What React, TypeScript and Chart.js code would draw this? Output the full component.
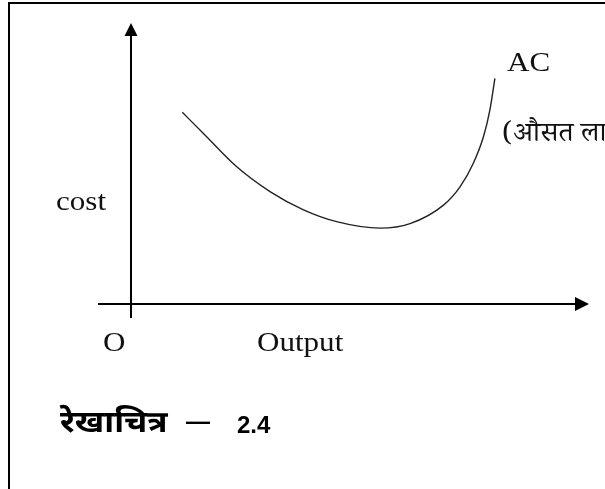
import React, { useEffect, useRef } from "react";
import { Chart, registerables } from "chart.js";

Chart.register(...registerables);

// Average cost (AC) curve (output units 0..10, cost units 0..10)
const outputValues = [1.14, 1.6, 2.32, 3.05, 3.78, 4.5, 5.45, 6.1, 6.83, 7.19, 7.48, 7.7, 7.84, 7.95];
const costValues = [6.82, 6.07, 4.89, 4.0, 3.35, 2.93, 2.7, 2.86, 3.52, 4.17, 5.01, 5.95, 6.9, 8.03];

const curveLabel = "AC";
const curveNote = "(औसत लागत)";
const yAxisTitle = "cost";
const xAxisTitle = "Output";
const originLabel = "O";
const captionWord = "रेखाचित्र";
const captionDash = "—";
const captionNumber = "2.4";

const SERIF = '"Liberation Serif", "Times New Roman", serif';
const DEVA = '"Noto Sans Devanagari", "Lohit Devanagari", "FreeSans", "Noto Sans", sans-serif';
const SANS = '"Liberation Sans", Arial, sans-serif';

function stretchedText(ctx: CanvasRenderingContext2D, text: string, x: number, y: number, font: string, sx: number) {
  ctx.save();
  ctx.font = font;
  ctx.translate(x, y);
  ctx.scale(sx, 1);
  ctx.fillText(text, 0, 0);
  ctx.restore();
}

const decorPlugin = {
  id: "decor",
  afterDraw(chart: any) {
    const ctx: CanvasRenderingContext2D = chart.ctx;
    const xs = chart.scales.x;
    const ys = chart.scales.y;
    const x0 = Math.round(xs.getPixelForValue(0)) + 1;
    const y0 = Math.round(ys.getPixelForValue(0));
    const xEnd = xs.getPixelForValue(10);
    const yTop = ys.getPixelForValue(10);
    ctx.save();
    // frame
    ctx.fillStyle = "#000";
    ctx.fillRect(8, 2, chart.width - 8, 2);
    ctx.fillRect(8, 2, 2, chart.height - 2);

    // axes
    ctx.strokeStyle = "#000";
    ctx.lineWidth = 2;
    ctx.beginPath();
    ctx.moveTo(x0, y0 + 14);
    ctx.lineTo(x0, yTop + 12);
    ctx.moveTo(x0 - 33, y0);
    ctx.lineTo(xEnd - 13, y0);
    ctx.stroke();
    // arrow heads
    ctx.beginPath();
    ctx.moveTo(x0, yTop);
    ctx.lineTo(x0 - 6.5, yTop + 13);
    ctx.lineTo(x0 + 6.5, yTop + 13);
    ctx.closePath();
    ctx.fill();
    ctx.beginPath();
    ctx.moveTo(xEnd, y0);
    ctx.lineTo(xEnd - 14, y0 - 7);
    ctx.lineTo(xEnd - 14, y0 + 7);
    ctx.closePath();
    ctx.fill();

    // labels
    ctx.fillStyle = "#111";
    ctx.textBaseline = "alphabetic";
    ctx.textAlign = "left";
    const f = `27px ${SERIF}`;
    stretchedText(ctx, curveLabel, 507, 71, f, 1.15);
    stretchedText(ctx, yAxisTitle, 56, 210, f, 1.15);
    stretchedText(ctx, originLabel, 103, 351, f, 1.15);
    stretchedText(ctx, xAxisTitle, 257, 351, f, 1.15);
    stretchedText(ctx, curveNote, 502, 141, `27px "Noto Serif Devanagari", ${SERIF}`, 1.05);
    ctx.fillStyle = "#000";
    stretchedText(ctx, captionWord, 60, 432, `bold 30px ${DEVA}`, 1.12);
    stretchedText(ctx, captionDash, 186, 429, `bold 24px ${SANS}`, 1.0);
    stretchedText(ctx, captionNumber, 237, 433, `bold 24px ${SANS}`, 1.0);
    ctx.restore();
  },
};

export default function App() {
  const ref = useRef<HTMLCanvasElement | null>(null);
  useEffect(() => {
    if (!ref.current) return;
    const chart = new Chart(ref.current, {
      type: "scatter",
      data: {
        datasets: [
          {
            label: curveLabel,
            data: outputValues.map((v, i) => ({ x: v, y: costValues[i] })),
            showLine: true,
            borderColor: "#222",
            borderWidth: 1.4,
            pointRadius: 0,
            cubicInterpolationMode: "monotone",
            fill: false,
          },
        ],
      },
      options: {
        animation: false,
        responsive: false,
        layout: { padding: { left: 130, right: 16, top: 23, bottom: 185 } },
        plugins: { legend: { display: false }, tooltip: { enabled: false } },
        scales: {
          x: { type: "linear", min: 0, max: 10, display: false },
          y: { type: "linear", min: 0, max: 10, display: false },
        },
      },
      plugins: [decorPlugin],
    });
    return () => chart.destroy();
  }, []);
  return (
    <div style={{ position: "absolute", left: 0, top: 0, width: 605, height: 489, background: "#fff" }}>
      <canvas ref={ref} width={605} height={489} style={{ display: "block" }} />
    </div>
  );
}
